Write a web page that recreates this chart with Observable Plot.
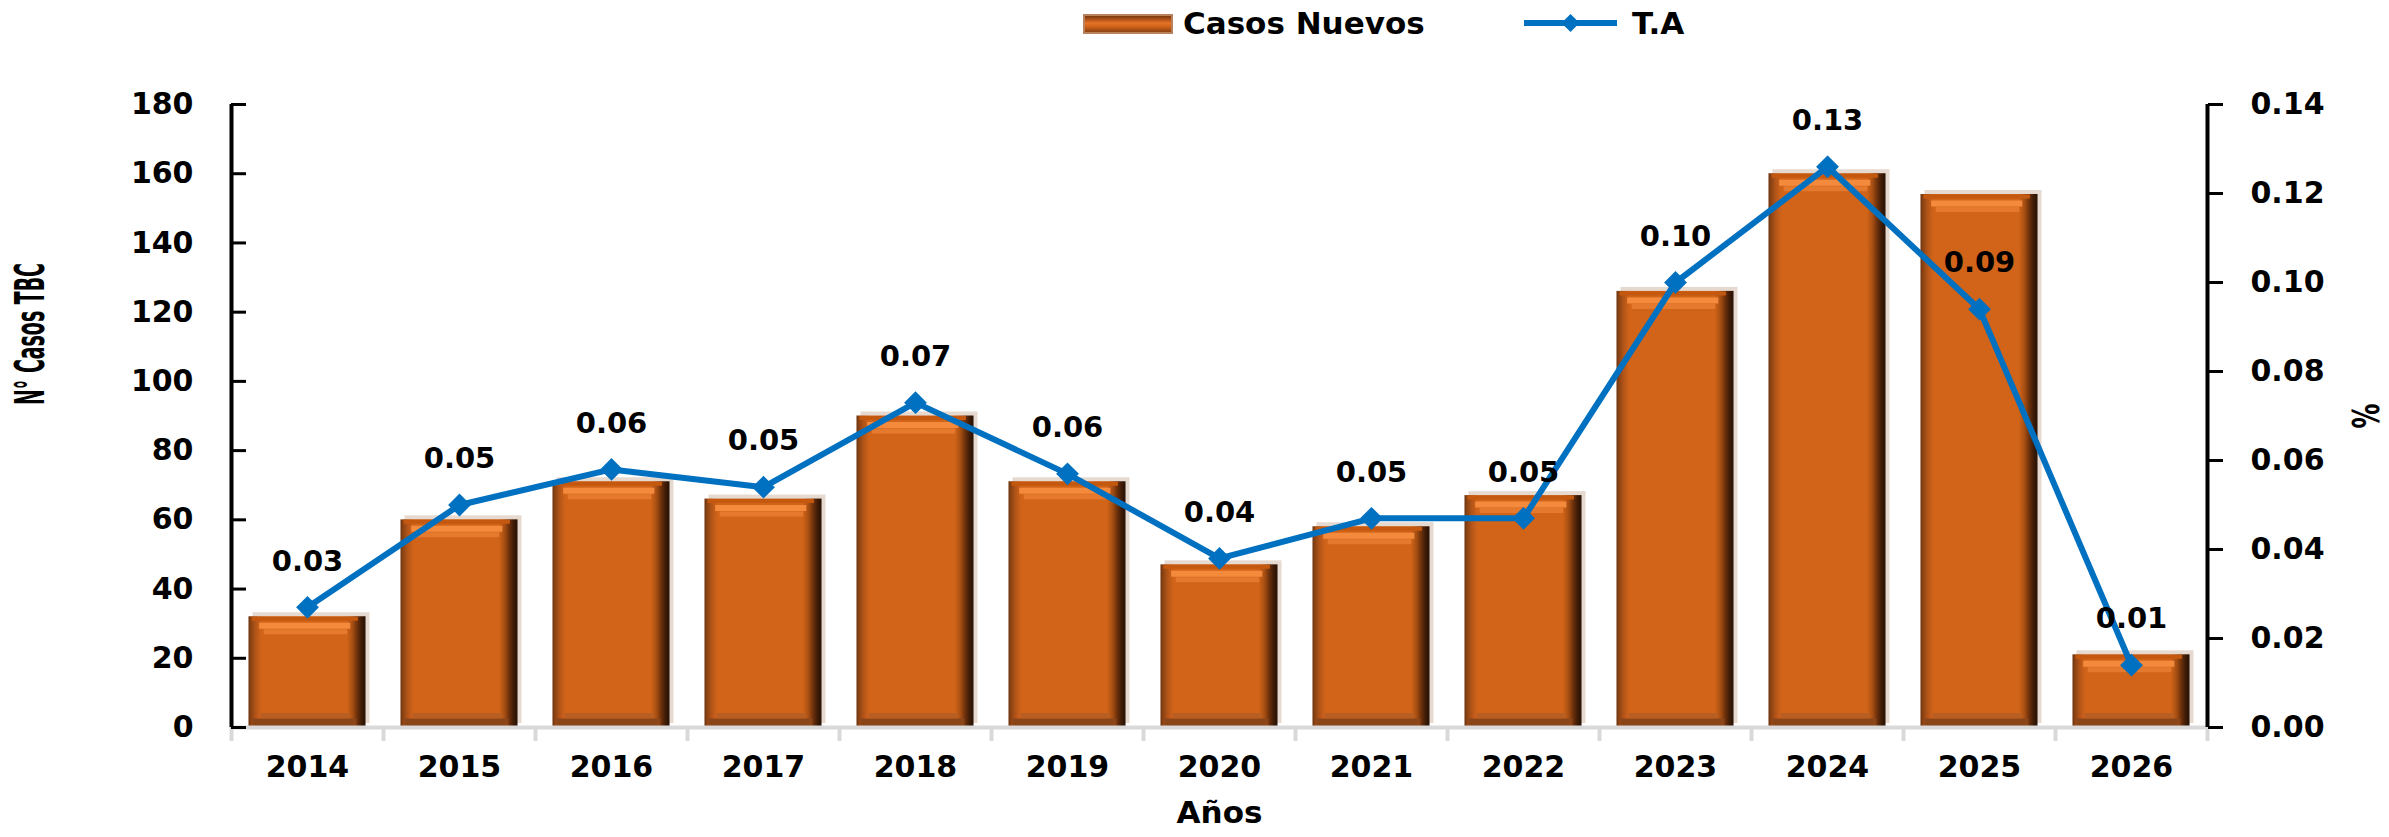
<!DOCTYPE html>
<html>
<head>
<meta charset="utf-8">
<script src="https://cdn.jsdelivr.net/npm/d3@7"></script>
<script src="https://cdn.jsdelivr.net/npm/@observablehq/plot@0.6"></script>
<style>
  html, body { margin: 0; padding: 0; background: #fff; }
  body { width: 2389px; height: 837px; overflow: hidden; font-family: "DejaVu Sans", sans-serif; }
  #legend { position: relative; width: 2389px; height: 50px; }
  #legend .lt { position: absolute; top: 8px; font: bold 31px/31px "DejaVu Sans", sans-serif; color: #000; white-space: nowrap; }
  #legend .swbar { position: absolute; left: 1083px; top: 14px; width: 86px; height: 16px;
    border: 2px solid #b9825e;
    background: linear-gradient(to bottom, #7a3810 0%, #b8561a 25%, #e47424 45%, #d2641a 65%, #8a4212 100%); }
  #legend svg { position: absolute; left: 1524px; top: 13px; }
</style>
</head>
<body>
<div id="legend">
  <div class="swbar"></div>
  <span class="lt" style="left:1183px">Casos Nuevos</span>
  <svg width="93" height="20"><line x1="0" y1="10" x2="93" y2="10" stroke="#0070c0" stroke-width="6"></line><path d="M46.5,1 L55.5,10 L46.5,19 L37.5,10 Z" fill="#0070c0"></path></svg>
  <span class="lt" style="left:1632px">T.A</span>
</div>
<div id="chart"></div>
<script>
// ---- data ----
const years = [2014, 2015, 2016, 2017, 2018, 2019, 2020, 2021, 2022, 2023, 2024, 2025, 2026];
const casosNuevos = [32, 60, 71, 66, 90, 71, 47, 58, 67, 126, 160, 154, 21];
const tasa = [0.027, 0.050, 0.058, 0.054, 0.073, 0.057, 0.038, 0.047, 0.047, 0.100, 0.126, 0.094, 0.014];
const leftTicks = [0, 20, 40, 60, 80, 100, 120, 140, 160, 180];
const rightTicks = [0, 0.02, 0.04, 0.06, 0.08, 0.10, 0.12, 0.14];
const yTitle = "N° Casos TBC";
const y2Title = "%";
const xTitle = "Años";

// ---- derived ----
const leftMax = leftTicks[leftTicks.length - 1];
const rightMax = rightTicks[rightTicks.length - 1];
const k = leftMax / rightMax;
const data = years.map((year, i) => ({year, casos: casosNuevos[i], ta: tasa[i], taScaled: tasa[i] * k}));
const bounds = years.map(y => y - 0.5).concat([years[years.length - 1] + 0.5]);
const half = 0.385;

const barStops = [
  ["0%", "#6e3410"], ["2.5%", "#8e4414"], ["6%", "#b25418"], ["11%", "#d2641a"],
  ["84%", "#d2641a"], ["89%", "#a64e12"], ["93%", "#6a300c"], ["97%", "#3a1906"], ["100%", "#2a1204"]
];

const plot = Plot.plot({
  width: 2389,
  height: 787,
  marginTop: 54,
  marginBottom: 110,
  marginLeft: 231,
  marginRight: 182,
  style: {fontFamily: "'DejaVu Sans', sans-serif", fontSize: "30px", fontWeight: "bold", color: "#000", background: "#fff"},
  x: {domain: [bounds[0], bounds[bounds.length - 1]], label: null},
  y: {domain: [0, leftMax], label: null},
  marks: [
    // bar shadow
    Plot.rectY(data, {x1: d => d.year - half, x2: d => d.year + half, y1: 0, y2: "casos", fill: "#e6d9d0", dx: 4, dy: -4}),
    // bars
    Plot.rectY(data, {x1: d => d.year - half, x2: d => d.year + half, y1: 0, y2: "casos", fill: "url(#barGrad)"}),
    // top bevel
    Plot.ruleY(data, {y: "casos", x1: d => d.year - half + 0.02, x2: d => d.year + half - 0.05, dy: 2, stroke: "#c4580f", strokeWidth: 4}),
    Plot.ruleY(data, {y: "casos", x1: d => d.year - half + 0.07, x2: d => d.year + half - 0.1, dy: 9, stroke: "#f48a3c", strokeWidth: 6}),
    Plot.ruleY(data, {y: "casos", x1: d => d.year - half + 0.1, x2: d => d.year + half - 0.12, dy: 15, stroke: "#e57a2e", strokeWidth: 5}),
    // bottom bevel
    Plot.ruleY(data, {y: 0, x1: d => d.year - half + 0.08, x2: d => d.year + half - 0.1, dy: -12, stroke: "#b85e22", strokeWidth: 5}),
    Plot.ruleY(data, {y: 0, x1: d => d.year - half + 0.03, x2: d => d.year + half - 0.06, dy: -5, stroke: "#8a4518", strokeWidth: 8}),
    // x baseline and boundary ticks
    Plot.ruleY([0], {stroke: "#d9d9d9", strokeWidth: 4}),
    Plot.axisX({ticks: bounds, tickSize: 14, tickFormat: () => "", stroke: "#d9d9d9", strokeWidth: 4, label: null}),
    Plot.axisX({ticks: years, tickSize: 0, tickPadding: 28, tickFormat: d => String(d), label: null}),
    // left axis
    Plot.ruleX([bounds[0]], {stroke: "#000", strokeWidth: 4}),
    Plot.axisY({ticks: leftTicks, tickSize: 15, dx: 15, tickFormat: () => "", strokeWidth: 3, label: null}),
    Plot.axisY({ticks: leftTicks, tickSize: 0, tickPadding: 38, label: null}),
    // right axis
    Plot.ruleX([bounds[bounds.length - 1]], {stroke: "#000", strokeWidth: 4}),
    Plot.axisY({anchor: "right", ticks: rightTicks.map(v => v * k), tickSize: 15, tickPadding: 28, strokeWidth: 3,
      tickFormat: v => (v / k).toFixed(2), label: null}),
    // T.A line
    Plot.line(data, {x: "year", y: "taScaled", stroke: "#0070c0", strokeWidth: 6}),
    Plot.dot(data, {x: "year", y: "taScaled", symbol: "diamond2", r: 9, fill: "#0070c0", stroke: "#0070c0", strokeWidth: 2}),
    Plot.text(data, {x: "year", y: "taScaled", text: d => d.ta.toFixed(2), dy: -46, fontSize: 29, fontWeight: "bold", fill: "#000"}),
    // titles
    Plot.text([yTitle], {frameAnchor: "left", dx: -200, dy: -82, rotate: -90, fontSize: 40, fontWeight: "bold", className: "ytitle"}),
    Plot.text([y2Title], {frameAnchor: "right", dx: 159, dy: 0, rotate: -90, fontSize: 38, fontWeight: "bold", className: "y2title"}),
    Plot.text([xTitle], {frameAnchor: "bottom", dy: 95, fontSize: 31, fontWeight: "bold"})
  ]
});

// gradient definition for the 3D bar look
const svg = d3.select(plot);
const defs = svg.insert("defs", ":first-child");
const grad = defs.append("linearGradient").attr("id", "barGrad").attr("x1", "0").attr("x2", "1").attr("y1", "0").attr("y2", "0");
barStops.forEach(([o, c]) => grad.append("stop").attr("offset", o).attr("stop-color", c));

// condensed rotated titles (anchor at start so the compressed text stays centred)
function condense(sel, len) {
  svg.selectAll(sel).attr("text-anchor", "start").attr("x", -len / 2)
    .attr("textLength", len).attr("lengthAdjust", "spacingAndGlyphs");
}
svg.selectAll(".ytitle, .y2title").attr("text-anchor", null);
condense(".ytitle text", 142);
condense(".y2title text", 25);

document.getElementById("chart").appendChild(plot);
</script>
</body>
</html>
